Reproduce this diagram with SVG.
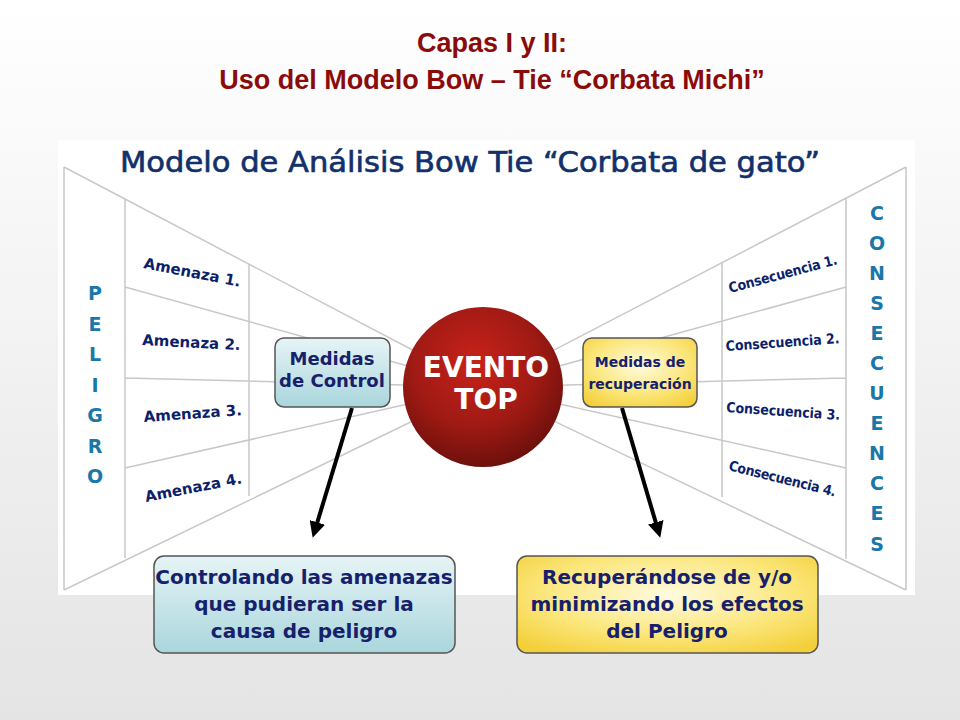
<svg xmlns="http://www.w3.org/2000/svg" width="960" height="720" viewBox="0 0 960 720">
<defs>
<linearGradient id="bg" x1="0" y1="0" x2="0" y2="1"><stop offset="0" stop-color="#ffffff"/><stop offset="1" stop-color="#e4e4e4"/></linearGradient>
<radialGradient id="red" cx="0.45" cy="0.35" r="0.65"><stop offset="0" stop-color="#c8221a"/><stop offset="0.6" stop-color="#a01a14"/><stop offset="1" stop-color="#6e100c"/></radialGradient>
<linearGradient id="blue" x1="0" y1="0" x2="0" y2="1"><stop offset="0" stop-color="#e6f4f6"/><stop offset="1" stop-color="#a9d6dc"/></linearGradient>
<radialGradient id="yel" cx="0.5" cy="0.4" r="0.7"><stop offset="0" stop-color="#fffbe0"/><stop offset="0.6" stop-color="#fbe67a"/><stop offset="1" stop-color="#f3cf3a"/></radialGradient>
<marker id="ah" markerWidth="4" markerHeight="4" refX="2" refY="2" orient="auto" markerUnits="strokeWidth"><path d="M0,0 L4,2 L0,4 z" fill="#000"/></marker>
</defs>
<style>
.ln{stroke:#c8c8c8;stroke-width:1.5;fill:none}
.th{font-family:"DejaVu Sans",sans-serif;font-weight:bold;font-size:15px;fill:#0d1f6b}
.cs{font-family:"DejaVu Sans Condensed","DejaVu Sans",sans-serif;font-weight:bold;font-size:14px;fill:#0d1f6b}
.big{font-family:"DejaVu Sans",sans-serif;font-weight:bold;fill:#17206b}
.vl{font-family:"DejaVu Sans",sans-serif;font-weight:bold;font-size:19px;fill:#1a78a8;text-anchor:middle}
.bx{stroke:#555;stroke-width:1.5}
</style>
<rect width="960" height="720" fill="url(#bg)"/>
<text x="492" y="52" text-anchor="middle" font-family="Liberation Sans, sans-serif" font-weight="bold" font-size="27" fill="#8b0a0a">Capas I y II:</text>
<text x="492" y="89" text-anchor="middle" font-family="Liberation Sans, sans-serif" font-weight="bold" font-size="27" fill="#8b0a0a">Uso del Modelo Bow – Tie “Corbata Michi”</text>
<rect x="58" y="140" width="857" height="455" fill="#fff"/>
<text x="470" y="172" text-anchor="middle" font-family="DejaVu Sans Condensed, DejaVu Sans, sans-serif" font-size="29" fill="#12306b" stroke="#12306b" stroke-width="0.6" textLength="700" lengthAdjust="spacingAndGlyphs">Modelo de Análisis Bow Tie “Corbata de gato”</text>
<g id="connectors">
<path class="ln" d="M64,167 L64,590 M64,167 L483,387 M64,590 L483,387 M125,199 L125,558 M249,264 L249,496 M125,287 L483,387 M125,378 L483,387 M125,468 L483,387"/>
<path class="ln" d="M906,167 L906,590 M906,167 L483,387 M906,590 L483,387 M846,198 L846,559 M722,262 L722,497 M846,287 L483,387 M846,378 L483,387 M846,468 L483,387"/>
<line x1="352" y1="408" x2="315" y2="530" stroke="#000" stroke-width="4" marker-end="url(#ah)"/>
<line x1="622" y1="408" x2="658" y2="530" stroke="#000" stroke-width="4" marker-end="url(#ah)"/>
</g>
<g id="peligro">
<text class="vl" x="95" y="300">P</text><text class="vl" x="95" y="331">E</text><text class="vl" x="95" y="361">L</text><text class="vl" x="95" y="392">I</text><text class="vl" x="95" y="422">G</text><text class="vl" x="95" y="453">R</text><text class="vl" x="95" y="483">O</text>
</g>
<g id="consecuences">
<text class="vl" x="877" y="220">C</text><text class="vl" x="877" y="250">O</text><text class="vl" x="877" y="280">N</text><text class="vl" x="877" y="310">S</text><text class="vl" x="877" y="340">E</text><text class="vl" x="877" y="370">C</text><text class="vl" x="877" y="400">U</text><text class="vl" x="877" y="430">E</text><text class="vl" x="877" y="460">N</text><text class="vl" x="877" y="490">C</text><text class="vl" x="877" y="520">E</text><text class="vl" x="877" y="551">S</text>
</g>
<g id="amenazas">
<text class="th" transform="translate(143,268) rotate(11)">Amenaza 1.</text>
<text class="th" transform="translate(142,345) rotate(3)">Amenaza 2.</text>
<text class="th" transform="translate(144,422) rotate(-4)">Amenaza 3.</text>
<text class="th" transform="translate(146,502) rotate(-11)">Amenaza 4.</text>
</g>
<g id="consecuencias">
<text class="cs" transform="translate(730,293) rotate(-15)" textLength="112">Consecuencia 1.</text>
<text class="cs" transform="translate(726,351) rotate(-4)" textLength="114">Consecuencia 2.</text>
<text class="cs" transform="translate(726,412) rotate(4)" textLength="114">Consecuencia 3.</text>
<text class="cs" transform="translate(728,470) rotate(14)" textLength="110">Consecuencia 4.</text>
</g>
<g id="evento">
<circle cx="483" cy="387" r="80" fill="url(#red)"/>
<text x="486" y="377" text-anchor="middle" font-family="DejaVu Sans, sans-serif" font-weight="bold" font-size="28" fill="#fff">EVENTO</text>
<text x="486" y="409" text-anchor="middle" font-family="DejaVu Sans, sans-serif" font-weight="bold" font-size="28" fill="#fff">TOP</text>
</g>
<g id="medidas-control">
<rect class="bx" x="275" y="338" width="115" height="69" rx="9" fill="url(#blue)"/>
<text class="big" x="332" y="365" text-anchor="middle" font-size="18">Medidas</text>
<text class="big" x="332" y="387" text-anchor="middle" font-size="18">de Control</text>
</g>
<g id="medidas-recuperacion">
<rect class="bx" x="583" y="338" width="114" height="69" rx="9" fill="url(#yel)"/>
<text class="big" x="640" y="367" text-anchor="middle" font-size="14">Medidas de</text>
<text class="big" x="640" y="389" text-anchor="middle" font-size="14">recuperación</text>
</g>
<g id="controlando">
<rect class="bx" x="154" y="556" width="301" height="97" rx="10" fill="url(#blue)"/>
<text class="big" x="304" y="584" text-anchor="middle" font-size="20">Controlando las amenazas</text>
<text class="big" x="304" y="611" text-anchor="middle" font-size="20">que pudieran ser la</text>
<text class="big" x="304" y="638" text-anchor="middle" font-size="20">causa de peligro</text>
</g>
<g id="recuperandose">
<rect class="bx" x="517" y="556" width="301" height="97" rx="10" fill="url(#yel)"/>
<text class="big" x="667" y="584" text-anchor="middle" font-size="20">Recuperándose de y/o</text>
<text class="big" x="667" y="611" text-anchor="middle" font-size="20">minimizando los efectos</text>
<text class="big" x="667" y="638" text-anchor="middle" font-size="20">del Peligro</text>
</g>
</svg>
